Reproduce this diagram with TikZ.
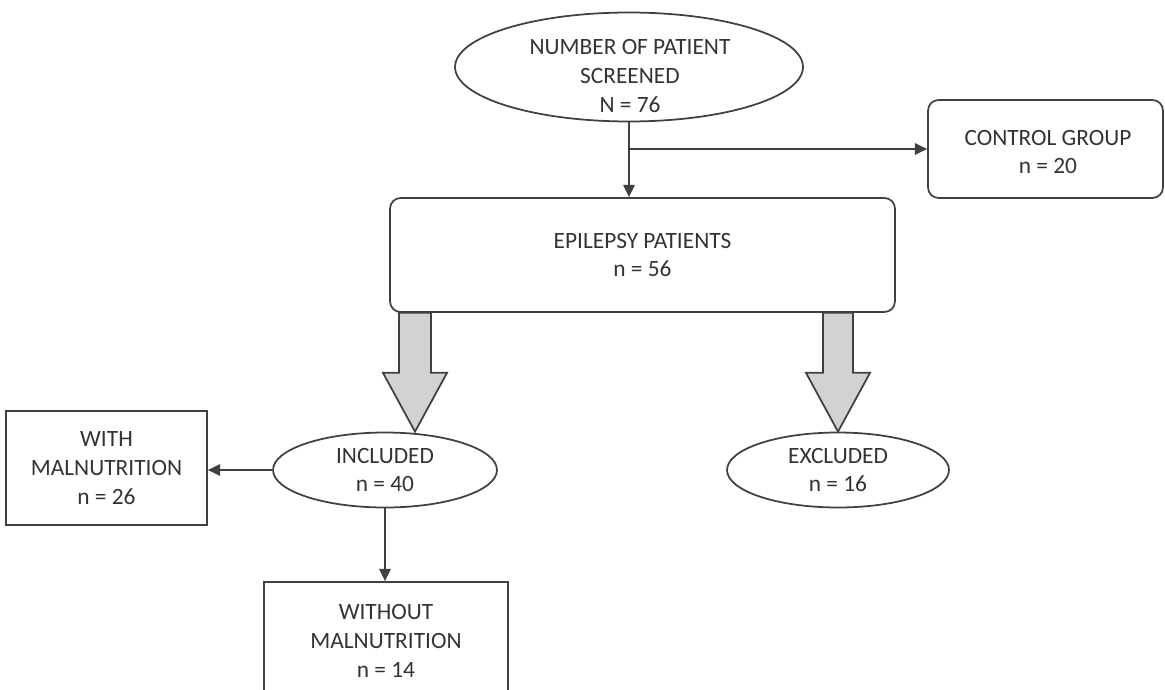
\documentclass[tikz,border=0pt]{standalone}
\usepackage{fontspec}
\setmainfont{Carlito}
\usepackage{xcolor}
\usetikzlibrary{arrows.meta,positioning,shapes.geometric,calc}
\definecolor{ink}{HTML}{404040}
\definecolor{txt}{HTML}{333333}
\definecolor{fatgray}{HTML}{D2D2D2}

\begin{document}
\begin{tikzpicture}[x=0.02cm,y=-0.02cm,>={Triangle[length=7pt,width=6.5pt]},
  font=\fontsize{13.3}{16.4}\selectfont,
  every node/.style={text=txt,align=center},
  oval/.style={draw=ink,line width=1pt,ellipse,inner sep=0pt},
  rbox/.style={draw=ink,line width=1pt,rounded corners=6pt,inner sep=2pt},
  box/.style={draw=ink,line width=1pt,inner sep=2pt},
  link/.style={draw=ink,line width=1pt,->},
  fatarrow/.style={draw=ink,line width=1pt,fill=fatgray,line join=miter}]
  \useasboundingbox (0,0) rectangle (1165,689);
  \node[oval,minimum width=6.96cm,minimum height=2.18cm] (scr) at (629,67) {};
  \node (scrtxt) at (630,76) {NUMBER OF PATIENT\\SCREENED\\N = 76};
  \node[rbox,minimum width=4.7cm,minimum height=1.96cm] (ctl) at (1045.5,149) {};
  \node (ctltxt) at (1048,152) {CONTROL GROUP\\n = 20};
  \node[rbox,minimum width=10.1cm,minimum height=2.28cm] (epi) at (642.5,255) {EPILEPSY PATIENTS\\n = 56};
  \node[oval,minimum width=4.48cm,minimum height=1.5cm] (inc) at (385,470) {INCLUDED\\n = 40};
  \node[oval,minimum width=4.44cm,minimum height=1.5cm] (exc) at (838,470) {EXCLUDED\\n = 16};
  \node[box,minimum width=4.02cm,minimum height=2.28cm] (wm) at (106.5,468) {WITH\\MALNUTRITION\\n = 26};
  \node[box,minimum width=4.88cm,minimum height=2.36cm] (wom) at (386,641) {WITHOUT\\MALNUTRITION\\n = 14};
  % thin arrows
  \draw[link] (scr.south) -- (scr.south |- epi.north);
  \draw[link] (ctl.west -| scr.south) -- (ctl.west);
  \draw[link] (inc.west) -- (inc.west -| wm.east);
  \draw[link] (inc.south) -- (inc.south |- wom.north);
  % fat arrows
  \coordinate (ltip) at ($(inc.north)+(30,0)$);
  \coordinate (rtip) at (exc.north);
  \draw[fatarrow] ($(ltip |- epi.south)+(-16,0)$) -- ++(0,60) -- ++(-16,0) -- (ltip)
    -- ($(ltip |- epi.south)+(32,60)$) -- ++(-16,0) -- ++(0,-60) -- cycle;
  \draw[fatarrow] ($(rtip |- epi.south)+(-15,0)$) -- ++(0,60) -- ++(-17,0) -- (rtip)
    -- ($(rtip |- epi.south)+(32,60)$) -- ++(-17,0) -- ++(0,-60) -- cycle;
\end{tikzpicture}
\end{document}
